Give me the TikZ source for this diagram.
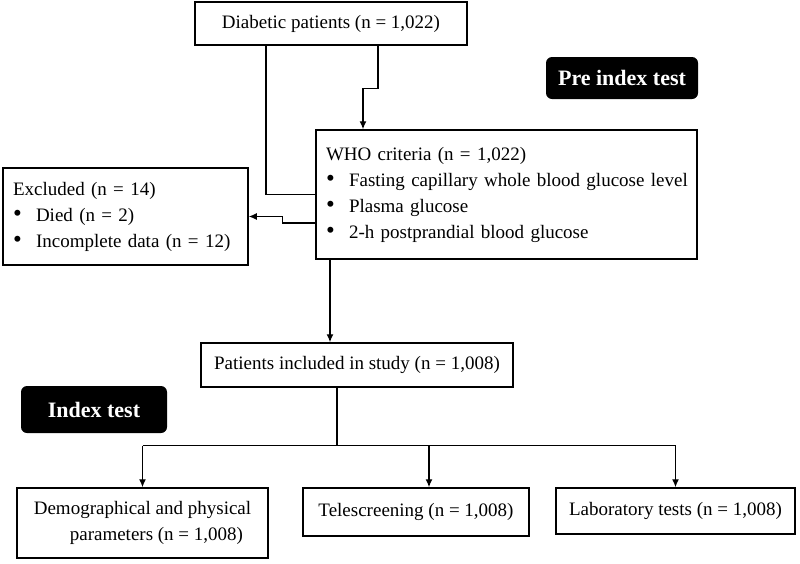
\documentclass[tikz,border=0pt]{standalone}
\usepackage{fontspec}
\setmainfont{Liberation Serif}
\usetikzlibrary{arrows.meta}

\newcommand{\bul}{\makebox[23pt][l]{\fontsize{25pt}{25pt}\selectfont\textbullet}}

\begin{document}
\begin{tikzpicture}[x=1pt, y=-1pt]
            % Styles
            \tikzstyle{box} = [rectangle, draw=black, line width=1.5pt, fill=white, font=\fontsize{19pt}{26pt}\selectfont, inner sep=0pt]
            \tikzstyle{listbox} = [box, inner xsep=10pt, align=left]
            \tikzstyle{tag} = [rectangle, fill=black, text=white, rounded corners=6pt, font=\fontsize{22pt}{26pt}\selectfont\bfseries]
            \tikzstyle{line} = [line width=1.3pt]
            \tikzstyle{arrow} = [line, -{Latex[length=8pt,width=7pt]}]

            \useasboundingbox (0,0) rectangle (800,563);

            % Pre index test
            \node[box, minimum width=272pt, minimum height=43pt] (dp) at (331,23.5) {Diabetic patients (n = 1,022)};
            \node[tag, minimum width=152pt, minimum height=42pt] (pre) at (622,78) {Pre index test};
            \node[listbox, minimum height=129pt, text width=361pt] (who) at (506.5,194.5) {WHO criteria (n = 1,022)\\
                \mbox{\bul Fasting capillary whole blood glucose level}\\
                \bul Plasma glucose\\
                \bul 2-h postprandial blood glucose};
            \node[listbox, minimum height=97pt, text width=225pt] (excl) at (125.5,216.5) {Excluded (n = 14)\\
                \bul Died (n = 2)\\
                \bul Incomplete data (n = 12)};

            % Index test
            \node[box, minimum width=312pt, minimum height=44pt] (pat) at (357,365) {Patients included in study (n = 1,008)};
            \node[tag, minimum width=146pt, minimum height=47pt] (idx) at (94,409.5) {Index test};
            \node[box, minimum width=251pt, minimum height=70pt, align=left] (demo) at (142.5,523) {Demographical and physical\\
                \hspace{36pt}parameters (n = 1,008)};
            \node[box, minimum width=226pt, minimum height=48pt] (tele) at (416,512) {Telescreening (n = 1,008)};
            \node[box, minimum width=239pt, minimum height=46pt] (lab) at (675.5,511) {Laboratory tests (n = 1,008)};

            % Connectors
            \draw[line] ([xshift=-65pt]dp.south) |- (who.west);
            \draw[arrow] ([xshift=47pt]dp.south) -- ++(0,43) -| ([xshift=-143.5pt]who.north);
            \draw[arrow] ([yshift=-28.5pt]who.west) -- ++(-33,0) |- (excl.east);
            \draw[arrow] ([xshift=-176.5pt]who.south) -- ([xshift=-27pt]pat.north);

            \draw[line] ([xshift=-20pt]pat.south) -- ++(0,58) coordinate (split);
            \coordinate (teletop) at ([xshift=13pt]tele.north);
            \draw[line] (split -| demo.north) -- (split -| lab.north);
            \draw[arrow] (split -| demo.north) -- (demo.north);
            \draw[arrow] (split -| teletop) -- (teletop);
            \draw[arrow] (split -| lab.north) -- (lab.north);
        \end{tikzpicture}
\end{document}
